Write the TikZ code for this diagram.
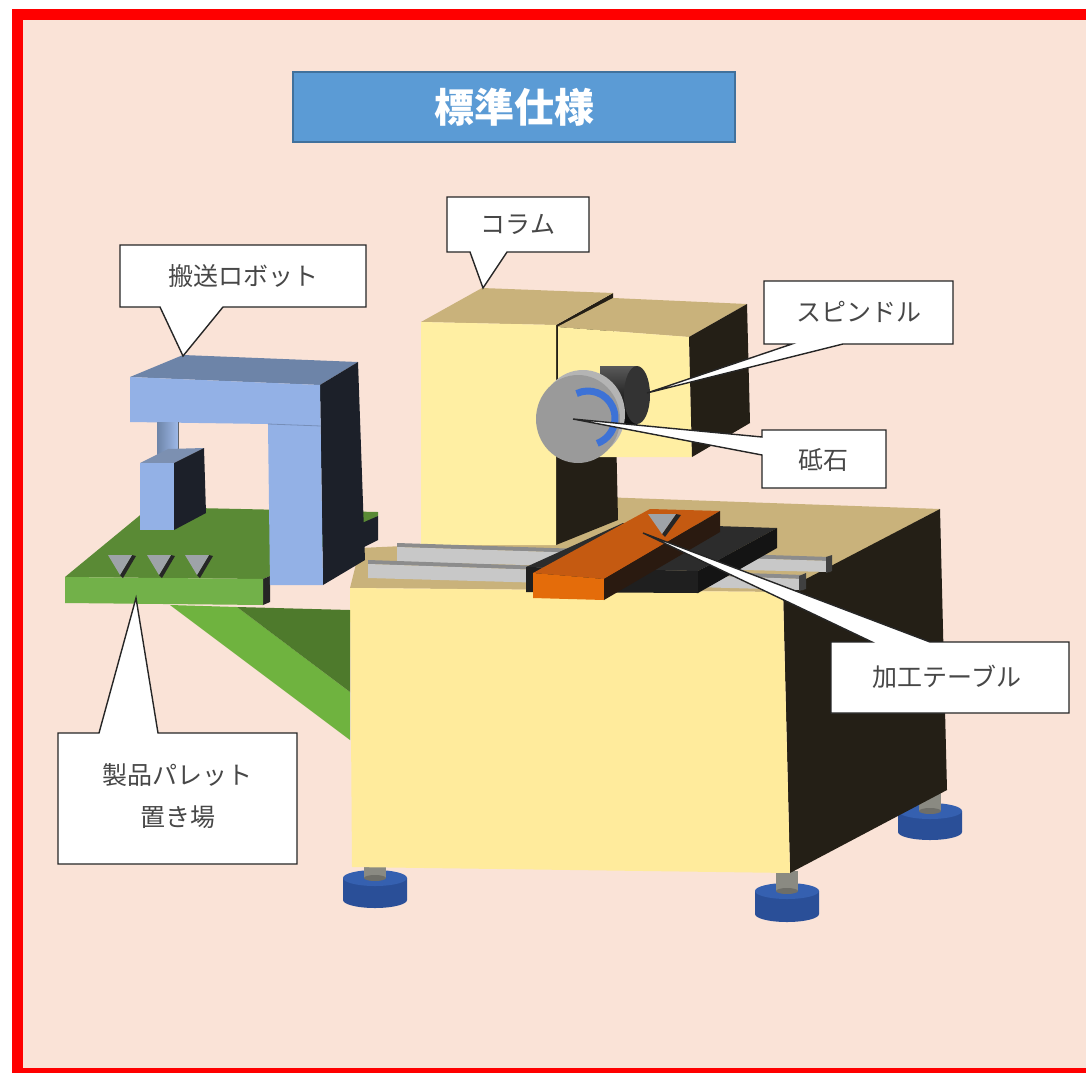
\documentclass[tikz,border=0pt]{standalone}
\usepackage{fontspec}
\newfontfamily\jp{Noto Sans CJK JP}
\definecolor{peach}{HTML}{FAE3D7}
\definecolor{frame}{HTML}{FF0000}
\definecolor{titleblue}{HTML}{5B9BD5}
\definecolor{titleedge}{HTML}{41719C}
\definecolor{baseyellow}{HTML}{FFEB9C}
\definecolor{colyellow}{HTML}{FFEFA3}
\definecolor{tan}{HTML}{C9B27B}
\definecolor{dkface}{HTML}{241F16}
\definecolor{footblue}{HTML}{2A4F98}
\definecolor{foottop}{HTML}{3560B0}
\definecolor{stemgray}{HTML}{8A8A82}
\definecolor{railface}{HTML}{C8C8C8}
\definecolor{railtop}{HTML}{8C8C8C}
\definecolor{slab}{HTML}{1F1F1F}
\definecolor{slabtop}{HTML}{2C2C2C}
\definecolor{orangetop}{HTML}{C55A11}
\definecolor{orangefront}{HTML}{E46C0A}
\definecolor{orangeside}{HTML}{2A1A10}
\definecolor{wheelgray}{HTML}{9A9A9A}
\definecolor{wheelrim}{HTML}{B4B4B4}
\definecolor{arcblue}{HTML}{3D72D6}
\definecolor{greentop}{HTML}{5A8A35}
\definecolor{greenfront}{HTML}{72B149}
\definecolor{greenband}{HTML}{6FB33F}
\definecolor{greendark}{HTML}{4E7A2C}
\definecolor{robotblue}{HTML}{93B1E6}
\definecolor{robottop}{HTML}{6D84A8}
\definecolor{robotdark}{HTML}{1C2029}
\definecolor{markgray}{HTML}{9EA3A8}
\newcommand\machinefoot[3]{%
  \fill[footblue] (#1-32,#2) -- (#1-32,#3) arc[start angle=180,end angle=0,x radius=32,y radius=8] -- (#1+32,#2) -- cycle;
  \fill[foottop] (#1,#2) ellipse[x radius=32,y radius=8];
  \fill[stemgray] (#1-11,#2-20) rectangle (#1+11,#2);
  \fill[stemgray!80!black] (#1,#2) ellipse[x radius=11,y radius=3];
}
\begin{document}
\begin{tikzpicture}[x=1pt,y=-1pt,
  callout/.style={fill=white,draw=black!85,line width=1.4pt,line join=miter},
  lbl/.style={font=\jp\fontsize{25}{30}\selectfont,text=black!72,inner sep=0pt},
  markfill/.style={fill=markgray},
  markshadow/.style={fill=black!85}]
\useasboundingbox (0,0) rectangle (1086,1073);
% background and frame
\fill[white] (0,0) rectangle (1086,1073);
\fill[frame] (12,9) rectangle (1086,1073);
\fill[peach] (23,20) rectangle (1086,1068);
% title
\node[draw=titleedge,line width=1.5pt,fill=titleblue,minimum width=442pt,minimum height=70pt,
  text=white,font=\jp\bfseries\fontsize{40}{44}\selectfont] (title) at (514,107) {標準仕様};
% feet
\machinefoot{930}{811}{832}
\machinefoot{375}{878}{900}
\machinefoot{787}{891}{914}
% base
\fill[tan] (350,588) -- (360,548) -- (425,545) -- (600,497) -- (940,509) -- (783,592) -- cycle;
\fill[dkface] (783,591) -- (940,509) -- (947,790) -- (790,873) -- cycle;
\fill[baseyellow] (350,588) -- (783,592) -- (790,873) -- (352,867) -- cycle;
% column
\fill[dkface] (556,325) -- (613,293) -- (618,520) -- (556,545) -- cycle;
\fill[tan] (421,322) -- (482,288) -- (613,293) -- (556,325) -- cycle;
\fill[colyellow] (421,322) -- (556,325) -- (556,545) -- (421,545) -- cycle;
% spindle head
\fill[tan] (557,327) -- (613,298) -- (747,304) -- (689,337) -- cycle;
\fill[colyellow] (557,327) -- (689,337) -- (692,457) -- (557,457) -- cycle;
\fill[dkface] (689,337) -- (747,304) -- (750,423) -- (692,457) -- cycle;
\draw[dkface,line width=0.8pt] (557,326) -- (557,457);
% spindle body
\shade[top color=black!65,bottom color=black!95,middle color=black!85] (600,366) rectangle (637,425);
\fill[black!80] (637,395) ellipse[x radius=13,y radius=29];
% grinding wheel
\fill[wheelrim] (583,414) ellipse[x radius=42,y radius=44];
\fill[wheelgray] (578,419) ellipse[x radius=42,y radius=44];
\draw[arcblue,line width=7pt] ([shift={(-115:27)}]588,418) arc[start angle=-115,end angle=70,radius=27];
% rails
\fill[railtop] (397,543) -- (830,557) -- (830,561) -- (397,547) -- cycle;
\fill[railface] (397,547) -- (830,561) -- (830,572) -- (397,562) -- cycle;
\fill[black!75] (826,557) -- (832,555) -- (832,571) -- (826,573) -- cycle;
\fill[railtop] (368,560) -- (803,575) -- (803,579) -- (368,564) -- cycle;
\fill[railface] (368,564) -- (803,579) -- (803,590) -- (368,578) -- cycle;
\fill[black!75] (799,576) -- (806,573) -- (806,589) -- (799,591) -- cycle;
% saddle slab
\fill[slabtop] (526,567) -- (623,523) -- (777,528) -- (698,571) -- cycle;
\fill[slab] (526,567) -- (698,571) -- (698,593) -- (526,592) -- cycle;
\fill[black!92] (698,571) -- (777,528) -- (777,548) -- (698,593) -- cycle;
% orange table
\fill[orangetop] (533,573) -- (650,509) -- (720,511) -- (604,579) -- cycle;
\fill[orangefront] (533,573) -- (604,579) -- (604,600) -- (533,598) -- cycle;
\fill[orangeside] (604,579) -- (720,511) -- (720,532) -- (604,600) -- cycle;
\fill[markshadow] (676,514) -- (681,515) -- (665,537) -- (662,534) -- cycle;
\fill[markfill] (648,514) -- (676,514) -- (662,534) -- cycle;
% green bracket
\fill[greenband] (170,605) -- (237,607) -- (350,692) -- (350,740) -- cycle;
\fill[greendark] (237,607) -- (350,610) -- (350,692) -- cycle;
% green plate
\fill[greentop] (65,577) -- (150,507) -- (378,512) -- (378,516) -- (270,576) -- (263,579) -- cycle;
\fill[black!85] (263,579) -- (270,576) -- (270,602) -- (263,605) -- cycle;
\fill[robotdark] (362,523) -- (378,516) -- (378,540) -- (362,548) -- cycle;
\fill[greenfront] (65,577) -- (263,579) -- (263,605) -- (65,603) -- cycle;
% pallet marks
\foreach \dx in {0,39,77}{
  \fill[markshadow] (132+\dx,555) -- (136+\dx,556) -- (123+\dx,578) -- (120+\dx,575) -- cycle;
  \fill[markfill] (108+\dx,555) -- (132+\dx,555) -- (120+\dx,575) -- cycle;
}
% robot
\fill[robottop] (130,377) -- (183,355) -- (358,362) -- (320,385) -- cycle;
\fill[robotdark] (320,385) -- (358,362) -- (365,560) -- (323,585) -- cycle;
\fill[robotblue] (130,377) -- (320,385) -- (323,585) -- (270,585) -- (268,424) -- (130,422) -- cycle;
\draw[robotblue!80!black,line width=0.8pt] (268,424) -- (321,426);
\shade[left color=robottop,right color=robotblue!90!white] (157,422) rectangle (178,455);
\draw[robotdark!70,line width=0.8pt] (178,422) -- (178,455);
\fill[robottop!90!white] (140,463) -- (168,449) -- (204,448) -- (174,463) -- cycle;
\fill[robotblue] (140,463) -- (174,463) -- (174,530) -- (140,530) -- cycle;
\fill[robotdark] (174,463) -- (204,448) -- (206,513) -- (174,530) -- cycle;
% callouts
\filldraw[callout] (120,245) -- (366,245) -- (366,307) -- (223,307) -- (183,356) -- (160,307) -- (120,307) -- cycle;
\node[lbl] (robot) at (243,276) {搬送ロボット};
\filldraw[callout] (447,197) -- (589,197) -- (589,252) -- (507,252) -- (483,288) -- (470,252) -- (447,252) -- cycle;
\node[lbl] (column) at (518,224) {コラム};
\filldraw[callout] (764,281) -- (953,281) -- (953,344) -- (843,344) -- (647,393) -- (792,344) -- (764,344) -- cycle;
\node[lbl] (spindle) at (859,312) {スピンドル};
\filldraw[callout] (762,430) -- (886,430) -- (886,488) -- (762,488) -- (762,455) -- (573,419) -- (762,437) -- cycle;
\node[lbl] (stone) at (823,460) {砥石};
\filldraw[callout] (831,642) -- (872,642) -- (643,533) -- (930,642) -- (1069,642) -- (1069,713) -- (831,713) -- cycle;
\node[lbl] (table) at (947,677) {加工テーブル};
\filldraw[callout] (58,733) -- (99,733) -- (136,598) -- (158,733) -- (297,733) -- (297,864) -- (58,864) -- cycle;
\node[lbl] (pallet1) at (177,775) {製品パレット};
\node[lbl] (pallet2) at (178,817) {置き場};
\end{tikzpicture}
\end{document}
